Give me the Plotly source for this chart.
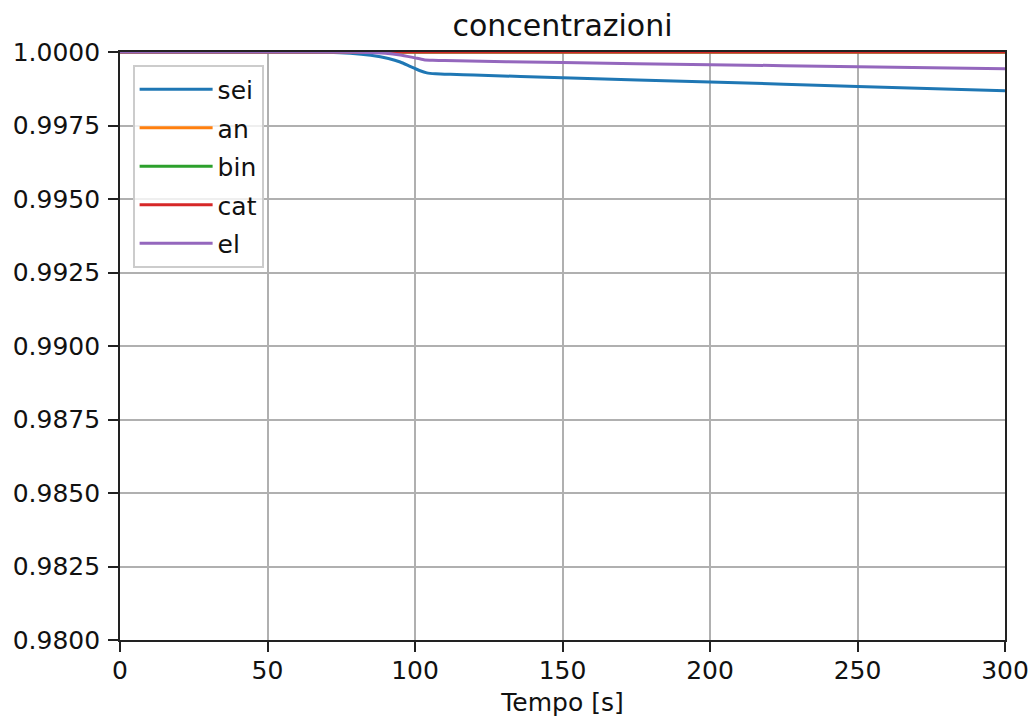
import plotly.graph_objects as go

# time axis (s)
t_sei = [0, 50, 70, 78, 85, 91, 95, 98.5, 101.5, 104, 107, 112, 120, 150, 200, 250, 300]
sei = [1.0, 1.0, 0.99999, 0.99996, 0.99989, 0.99978, 0.99966, 0.99950, 0.99937, 0.99929, 0.99926, 0.99924, 0.99922, 0.99912, 0.99898, 0.99883, 0.99868]

t_flat = [0, 300]
an = [1.0, 1.0]
bin_ = [1.0, 1.0]
cat = [1.0, 1.0]

t_el = [0, 50, 80, 90, 95, 100, 103, 106, 110, 150, 200, 250, 300]
el = [1.0, 1.0, 0.99999, 0.99996, 0.99990, 0.99980, 0.99974, 0.99972, 0.99971, 0.99964, 0.99957, 0.99950, 0.99943]

names = ["sei", "an", "bin", "cat", "el"]
colors = ["#1f77b4", "#ff7f0e", "#2ca02c", "#d62728", "#9467bd"]
series = [(t_sei, sei), (t_flat, an), (t_flat, bin_), (t_flat, cat), (t_el, el)]

fig = go.Figure()
for (tx, vy), nm, c in zip(series, names, colors):
    fig.add_trace(go.Scatter(x=tx, y=vy, mode="lines", name=nm, legendgroup=nm,
                             line=dict(color=c, width=3, shape="spline", smoothing=0.6)))

font = dict(family="DejaVu Sans", size=25, color="#111111")
axis_common = dict(showline=True, linecolor="#222222", linewidth=1.6, mirror=True,
                   ticks="outside", ticklen=10, tickwidth=1.6, tickcolor="#222222",
                   showgrid=True, gridcolor="#b0b0b0", gridwidth=1.6, zeroline=False,
                   tickfont=font, automargin=False)

fig.update_layout(
    width=1033, height=722,
    margin=dict(l=120, r=28, t=52, b=82),
    paper_bgcolor="white", plot_bgcolor="white",
    font=font,
    title=dict(text="concentrazioni", x=0.5, xanchor="center", xref="paper",
               y=1 - 25 / 722, yanchor="middle", font=dict(family="DejaVu Sans", size=30, color="#111111")),
    xaxis=dict(range=[0, 300], tickvals=[0, 50, 100, 150, 200, 250, 300], ticklabelstandoff=-3,
               title=dict(text="Tempo [s]", font=font, standoff=10), **axis_common),
    yaxis=dict(range=[0.98, 1.0], tickvals=[0.98, 0.9825, 0.985, 0.9875, 0.99, 0.9925, 0.995, 0.9975, 1.0],
               tickformat=".4f", ticklabelstandoff=3, **axis_common),
    legend=dict(x=0.0147, y=0.978, xanchor="left", yanchor="top",
                bgcolor="rgba(255,255,255,0.8)", bordercolor="#cccccc", borderwidth=1.6,
                font=font, tracegroupgap=3, itemwidth=73),
    showlegend=True,
)

fig.write_html("out.html")
